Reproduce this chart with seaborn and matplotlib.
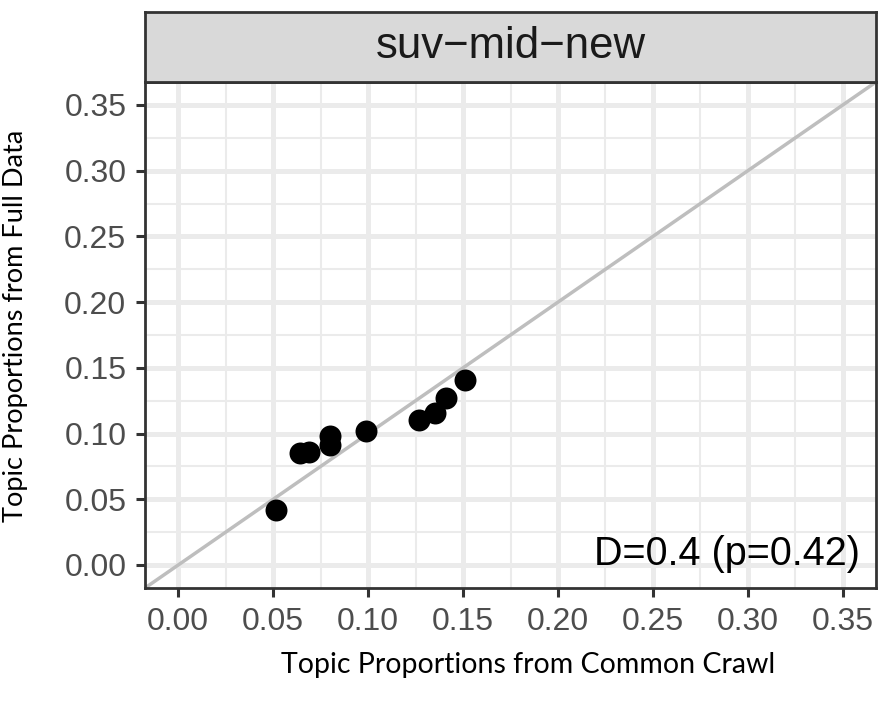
import matplotlib
matplotlib.use("Agg")
import matplotlib.pyplot as plt
import seaborn as sns
import pandas as pd
import numpy as np

# ---- data ----
common_crawl = [0.0515, 0.064, 0.069, 0.080, 0.080, 0.099, 0.127, 0.135, 0.141, 0.151]
full_data    = [0.0416, 0.0854, 0.086, 0.0915, 0.098, 0.102, 0.110, 0.1157, 0.127, 0.1405]
facet_label = "suv\u2212mid\u2212new"
annotation = "D=0.4 (p=0.42)"
tick_values = [0.00, 0.05, 0.10, 0.15, 0.20, 0.25, 0.30, 0.35]
tick_labels = ["0.00", "0.05", "0.10", "0.15", "0.20", "0.25", "0.30", "0.35"]
minor_values = [0.025, 0.075, 0.125, 0.175, 0.225, 0.275, 0.325]
x_label = "Topic Proportions from Common Crawl"
y_label = "Topic Proportions from Full Data"

df = pd.DataFrame({"cc": common_crawl, "full": full_data})

sns.set_theme(style="white")
plt.rcParams["font.family"] = ["Liberation Sans", "DejaVu Sans"]

fig = plt.figure(figsize=(8.81, 7.07), dpi=100)
L, R = 145 / 881, 876 / 881
B, T = (707 - 588) / 707, (707 - 82) / 707
ST = (707 - 12) / 707
ax = fig.add_axes([L, B, R - L, T - B])
sax = fig.add_axes([L, T, R - L, ST - T])

lo, hi = -0.0175, 0.3675
ax.set_xlim(lo, hi)
ax.set_ylim(lo, hi)
ax.set_facecolor("white")

# grid
ax.set_xticks(tick_values)
ax.set_yticks(tick_values)
ax.set_xticks(minor_values, minor=True)
ax.set_yticks(minor_values, minor=True)
ax.grid(True, which="major", color="#EBEBEB", linewidth=3.6, zorder=0)
ax.grid(True, which="minor", color="#EBEBEB", linewidth=1.5, zorder=0)
ax.set_axisbelow(True)

ax.axline((0, 0), slope=1, color="#BEBEBE", linewidth=2.5, zorder=2)
sns.scatterplot(data=df, x="cc", y="full", ax=ax, color="black", s=250,
                edgecolor="black", linewidth=0, zorder=3, legend=False)

ax.set_xticklabels(tick_labels)
ax.set_yticklabels(tick_labels)
ax.tick_params(axis="both", which="major", length=6.5, width=2.2, color="#333333",
               labelsize=23, labelcolor="#4D4D4D", pad=7, direction="out",
               bottom=True, left=True)
ax.tick_params(axis="both", which="minor", length=0)
for sp in ax.spines.values():
    sp.set_color("#333333")
    sp.set_linewidth(2.0)

ax.set_xlabel("")
ax.set_ylabel("")

ax.text(0.359, 0.0, annotation, ha="right", va="baseline", fontsize=28.5,
        color="black", zorder=4)

# strip
sax.set_facecolor("#D9D9D9")
sax.set_xticks([])
sax.set_yticks([])
for sp in sax.spines.values():
    sp.set_color("#333333")
    sp.set_linewidth(2.0)
sax.text(0.5, 0.5, facet_label, ha="center", va="center", fontsize=31.5,
         color="#1A1A1A", transform=sax.transAxes)

# axis titles
fig.text(528 / 881, 1 - 665 / 707, x_label, ha="center", va="center",
         fontsize=20.5, family=["Lato", "DejaVu Sans"], color="black")
fig.text(16 / 881, 1 - 326 / 707, y_label, ha="center", va="center",
         rotation=90, fontsize=19.5, family=["Lato", "DejaVu Sans"], color="black")

fig.savefig("out.png", dpi=100)
